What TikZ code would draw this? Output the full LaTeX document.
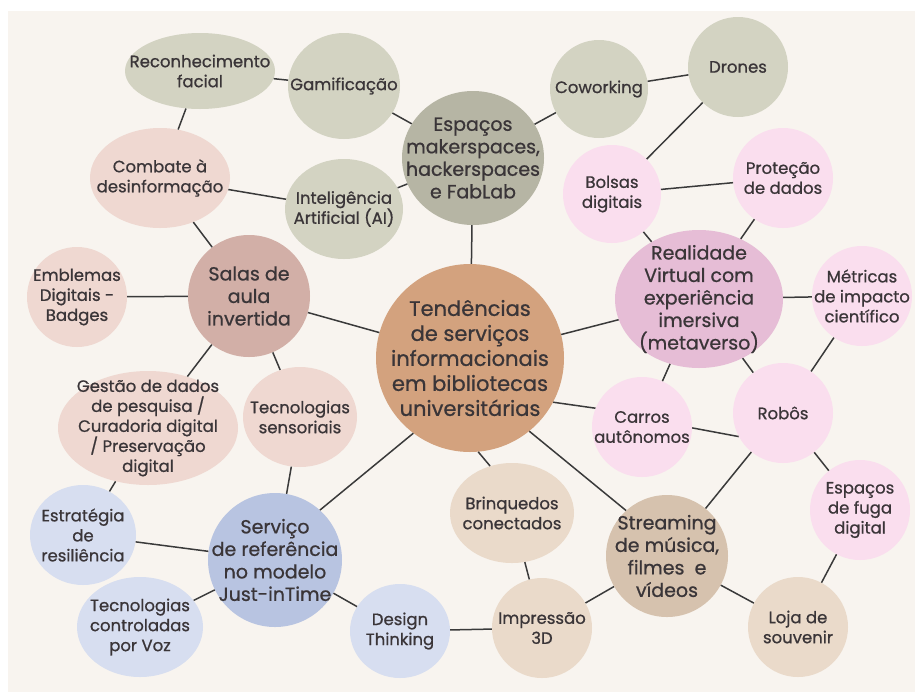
\documentclass[tikz,border=0pt]{standalone}
\usepackage{fontspec}
\setmainfont{Poppins}[UprightFeatures={FakeBold=0.8}]
\usetikzlibrary{shapes.geometric}
\definecolor{bgc}{HTML}{F8F4EF}
\definecolor{sage}{HTML}{D3D3C2}
\definecolor{sagedark}{HTML}{B6B5A4}
\definecolor{rose}{HTML}{EFD8D1}
\definecolor{rosedark}{HTML}{D2AFA7}
\definecolor{centralc}{HTML}{D3A27E}
\definecolor{pinkl}{HTML}{FADEEE}
\definecolor{pinkdark}{HTML}{E6BDD6}
\definecolor{bluel}{HTML}{D7DEF0}
\definecolor{bluedark}{HTML}{B8C4E1}
\definecolor{beigel}{HTML}{EADACA}
\definecolor{beigedark}{HTML}{D6C2AE}
\definecolor{ink}{HTML}{3A3538}
\definecolor{linec}{HTML}{3A3A3A}
\newcommand{\mybub}[8]{%
  \node[bub, fill=#6, minimum width={2*#4pt}, minimum height={2*#5pt}] (#1) at (#2,#3) {};
  \node[txt,#7] (t#1) at (#1) {#8};}
\begin{document}
\begin{tikzpicture}[x=1pt,y=-1pt,
  bub/.style={ellipse, inner sep=0pt, draw=none},
  txt/.style={align=center, text=ink, inner sep=0pt, font=\fontsize{16.5}{20}\selectfont},
  midtxt/.style={font=\fontsize{19}{22.5}\selectfont},
  bigtxt/.style={font=\fontsize{21}{25}\selectfont},
  link/.style={draw=linec, line width=1.5pt}]
\useasboundingbox (0,0) rectangle (915,697);
\fill[white] (0,0) rectangle (915,697);
\fill[bgc] (8,11) rectangle (915,692);

% green / sage group
\mybub{rec}{200}{71}{75}{38}{sage}{}{Reconhecimento\\facial}
\mybub{gam}{344}{86}{56}{53}{sage}{}{Gamificação}
\mybub{ia}{344}{209}{59}{50}{sage}{}{Inteligência\\Artificial (AI)}
\mybub{esp}{473}{158}{71}{67}{sagedark}{midtxt}{Espaços\\makerspaces,\\hackerspaces\\e FabLab}
\mybub{cow}{599}{89}{49}{49}{sage}{}{Coworking}
\mybub{dro}{738}{67}{50}{50}{sage}{}{Drones}
% rose group
\mybub{com}{160}{178}{70}{50}{rose}{}{Combate à\\desinformação}
\mybub{sal}{249}{296}{61}{61}{rosedark}{midtxt}{Salas de\\aula\\invertida}
\mybub{emb}{77}{297}{50}{50}{rose}{}{Emblemas\\Digitais -\\Badges}
\mybub{ges}{148}{428}{90}{57}{rose}{}{Gestão de dados\\de pesquisa /\\Curadoria digital\\/ Preservação\\digital}
\mybub{tsen}{300}{417}{57}{50}{rose}{}{Tecnologias\\sensoriais}
% central
\mybub{cen}{470}{358}{94}{94}{centralc}{bigtxt}{Tendências\\de serviços\\informacionais\\em bibliotecas\\universitárias}
% pink group
\mybub{bol}{612}{194}{49}{49}{pinkl}{}{Bolsas\\digitais}
\mybub{pro}{783}{178}{50}{50}{pinkl}{}{Proteção\\de dados}
\mybub{rea}{699}{299}{84}{69}{pinkdark}{midtxt}{Realidade\\Virtual com\\experiência\\imersiva\\(metaverso)}
\mybub{met}{862}{296}{50}{50}{pinkl}{}{Métricas\\de impacto\\científico}
\mybub{car}{642}{427}{50}{50}{pinkl}{}{Carros\\autônomos}
\mybub{rob}{783}{413}{50}{50}{pinkl}{}{Robôs}
\mybub{fug}{860}{510}{50}{50}{pinkl}{}{Espaços\\de fuga\\digital}
% blue group
\mybub{est}{83}{535}{53}{50}{bluel}{}{Estratégia\\de\\resiliência}
\mybub{ser}{275}{560}{67}{67}{bluedark}{midtxt}{Serviço\\de referência\\no modelo\\Just-inTime}
\mybub{voz}{140}{627}{63}{50}{bluel}{}{Tecnologias\\controladas\\por Voz}
\mybub{des}{400}{631}{50}{47}{bluel}{}{Design\\Thinking}
% beige group
\mybub{bri}{512}{513}{62}{50}{beigel}{}{Brinquedos\\conectados}
\mybub{imp}{542}{628}{50}{50}{beigel}{}{Impressão\\3D}
\mybub{str}{667}{556}{61}{61}{beigedark}{midtxt}{Streaming\\de música,\\filmes\ \ e\\vídeos}
\mybub{loj}{798}{627}{50}{50}{beigel}{}{Loja de\\souvenir}

% connectors
\path[link] (rec) -- (gam);
\path[link] (rec) -- (com);
\path[link] (gam) -- (esp);
\path[link] (com) -- (ia);
\path[link] (ia) -- (esp);
\path[link] (com) -- (sal);
\path[link] (esp) -- (cow);
\path[link] (esp) -- (cen);
\path[link] (cow) -- (dro);
\path[link] (dro) -- (bol);
\path[link] (bol) -- (pro);
\path[link] (bol) -- (rea);
\path[link] (pro) -- (rea);
\path[link] (rea) -- (met);
\path[link] (rea) -- (cen);
\path[link] (rea) -- (car);
\path[link] (rea) -- (rob);
\path[link] (met) -- (rob);
\path[link] (sal) -- (emb);
\path[link] (sal) -- (cen);
\path[link] (sal) -- (ges);
\path[link] (sal) -- (tsen);
\path[link] (ges) -- (est);
\path[link] (tsen) -- (ser);
\path[link] (ser.48) -- (cen.233);
\path[link] (est) -- (ser);
\path[link] (ser) -- (voz);
\path[link] (ser) -- (des);
\path[link] (des) -- (imp);
\path[link] (cen.275) -- (bri.115);
\path[link] (bri) -- (imp);
\path[link] (imp) -- (str);
\path[link] (cen.-51) -- (str.132);
\path[link] (cen.-28) -- (car.158);
\path[link] (car.-1) -- (rob.208);
\path[link] (rob) -- (str);
\path[link] (rob) -- (fug);
\path[link] (fug) -- (loj);
\path[link] (str) -- (loj);
\end{tikzpicture}
\end{document}
